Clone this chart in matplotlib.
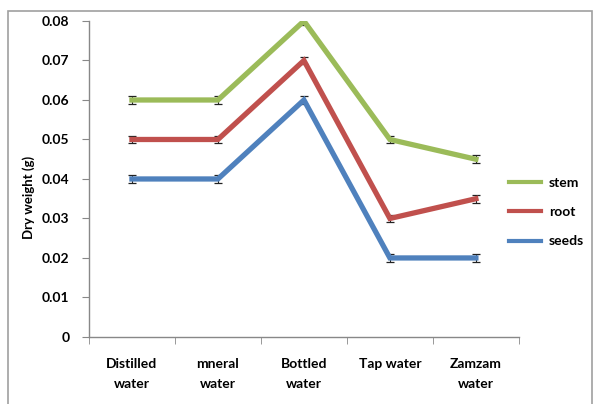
import numpy as np
import matplotlib.pyplot as plt
from matplotlib.patches import Rectangle

# Дані: суха маса (г) для різних типів води
categories = ["Distilled\nwater", "mneral\nwater", "Bottled\nwater", "Tap water", "Zamzam\nwater"]
stem = [0.06, 0.06, 0.08, 0.05, 0.045]
root = [0.05, 0.05, 0.07, 0.03, 0.035]
seeds = [0.04, 0.04, 0.06, 0.02, 0.02]
err = [0.001, 0.001, 0.001, 0.001, 0.001]
yticks = [0, 0.01, 0.02, 0.03, 0.04, 0.05, 0.06, 0.07, 0.08]

plt.rcParams['font.family'] = ['Lato', 'DejaVu Sans']

fig = plt.figure(figsize=(5.93, 4.04), dpi=100)
ax = fig.add_axes([0.150, 0.166, 0.725, 0.782])

# Сіра рамка навколо всього полотна
fig.patches.append(Rectangle((8 / 593, -0.05), 584 / 593, 1 - 11 / 404 + 0.05,
                             transform=fig.transFigure, fill=False,
                             edgecolor="#a0a0a0", lw=1.2))

x = np.arange(len(categories))
series = [("stem", stem, "#9bbb59"), ("root", root, "#c0504d"), ("seeds", seeds, "#4f81bd")]
for name, vals, col in series:
    ax.errorbar(x, vals, yerr=err, color=col, lw=3.8, ecolor="#222222",
                elinewidth=0.8, capsize=3, capthick=0.9, label=name,
                solid_joinstyle="miter")

ax.set_xlim(-0.5, len(categories) - 0.5)
ax.set_ylim(0, 0.08)
ax.set_yticks(yticks)
ax.set_yticklabels(["0"] + ["%.2f" % v for v in yticks[1:]])
ax.set_xticks(x)
ax.set_xticklabels(categories, linespacing=1.8)
ax.set_xticks(np.arange(len(categories) + 1) - 0.5, minor=True)
ax.tick_params(axis="x", which="major", length=0, pad=15)
ax.tick_params(axis="x", which="minor", length=5, color="#888888", direction="out")
ax.tick_params(axis="y", length=5, color="#888888", pad=9)
for lab in ax.get_xticklabels() + ax.get_yticklabels():
    lab.set_fontweight("bold")
    lab.set_fontsize(10)

for side in ("top", "right"):
    ax.spines[side].set_visible(False)
for side in ("left", "bottom"):
    ax.spines[side].set_color("#888888")
    ax.spines[side].set_linewidth(1)

ax.set_ylabel("Dry weight (g)", fontweight="bold", fontsize=9.5)
ax.yaxis.set_label_coords(-0.125, 0.44)

handles = [plt.Line2D([], [], color=c, lw=3) for _, _, c in series]
fig.legend(handles, [s[0] for s in series], loc="center left",
           bbox_to_anchor=(0.838, 0.475), frameon=False, handlelength=2.3,
           labelspacing=1.25, handletextpad=0.55,
           prop={"weight": "bold", "size": 10})

fig.savefig("out.png", dpi=100)
